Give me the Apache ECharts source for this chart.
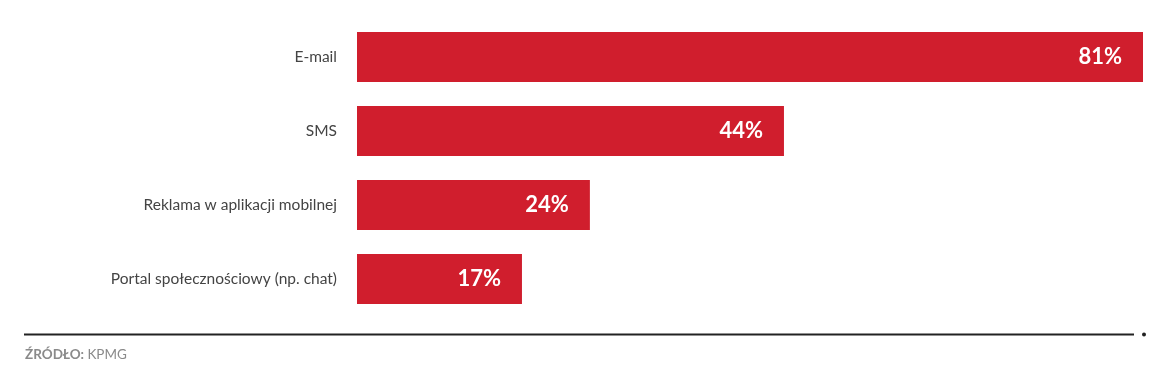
<!DOCTYPE html>
<html>
<head>
<meta charset="utf-8">
<script src="https://cdn.jsdelivr.net/npm/echarts@6/dist/echarts.min.js"></script>
<style>
html,body{margin:0;padding:0;background:#fff;}
#chart{width:1167px;height:372px;}
</style>
</head>
<body>
<div id="chart"></div>
<script>
const categories = ['E-mail', 'SMS', 'Reklama w aplikacji mobilnej', 'Portal społecznościowy (np. chat)'];
const values = [81, 44, 24, 17];
const sourceLabel = 'ŹRÓDŁO:';
const sourceName = 'KPMG';

const chart = echarts.init(document.getElementById('chart'), null, {renderer: 'canvas'});
chart.setOption({
  animation: false,
  backgroundColor: '#ffffff',
  grid: {left: 357, right: 24, top: 20, height: 296, containLabel: false},
  xAxis: {
    type: 'value', min: 0, max: Math.max(...values),
    show: false
  },
  yAxis: {
    type: 'category', data: categories, inverse: true,
    axisLine: {show: false}, axisTick: {show: false}, splitLine: {show: false},
    axisLabel: {color: '#444444', fontFamily: 'Lato', fontSize: 15.5, margin: 20}
  },
  series: [{
    type: 'bar', data: values, barWidth: 50,
    itemStyle: {color: '#d01e2d'},
    label: {
      show: true, position: 'insideRight', distance: 21,
      formatter: '{c}%', color: '#ffffff',
      fontFamily: 'Lato', fontWeight: 'bold', fontSize: 22
    }
  }],
  graphic: [
    {type: 'line', shape: {x1: 24, y1: 334.5, x2: 1134, y2: 334.5}, style: {stroke: '#222222', lineWidth: 2}},
    {type: 'circle', shape: {cx: 1144, cy: 334.5, r: 2}, style: {fill: '#222222'}},
    {type: 'text', left: 25, top: 348, style: {
      text: '{b|' + sourceLabel + '} {r|' + sourceName + '}',
      rich: {
        b: {fontFamily: 'Lato', fontWeight: 'bold', fontSize: 13.5, fill: '#8a8a8a'},
        r: {fontFamily: 'Lato', fontSize: 13.5, fill: '#8a8a8a'}
      }
    }}
  ]
});
</script>
</body>
</html>
